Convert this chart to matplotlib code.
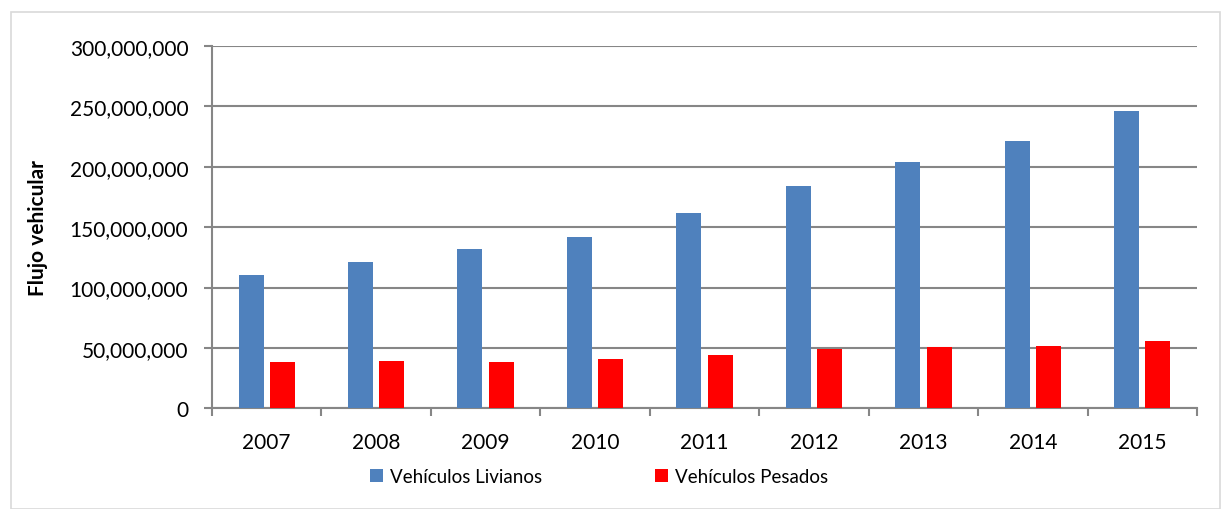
import numpy as np
import matplotlib
matplotlib.use('Agg')
import matplotlib.pyplot as plt
from matplotlib.ticker import FuncFormatter
from matplotlib.patches import Rectangle

plt.rcParams['font.family'] = ['Lato', 'DejaVu Sans']

# datos
anios = ['2007', '2008', '2009', '2010', '2011', '2012', '2013', '2014', '2015']
livianos = [110.5e6, 121.5e6, 131.8e6, 141.8e6, 161.6e6, 183.7e6, 203.9e6, 221.5e6, 245.9e6]
pesados = [38.3e6, 39.5e6, 38.3e6, 40.8e6, 44.3e6, 48.9e6, 50.6e6, 51.4e6, 55.5e6]

azul = '#4F81BD'
rojo = '#FF0000'
gris = '#868686'

fig = plt.figure(figsize=(12.31, 5.10), dpi=100)
fig.patches.append(Rectangle((11/1231, 0), (1220-11)/1231, 1 - 13/510, transform=fig.transFigure,
                             fill=False, edgecolor='#D9D9D9', linewidth=1.2))
ax = fig.add_axes([212/1231, 1 - 409.3/510, (1197-212)/1231, (409.3-47)/510])

x = np.arange(len(anios))
w = 0.228
ax.bar(x - 0.143, livianos, w, color=azul, label='Vehículos Livianos', zorder=3)
ax.bar(x + 0.143, pesados, w, color=rojo, label='Vehículos Pesados', zorder=3)

ax.set_xlim(-0.5, len(anios) - 0.5)
ax.set_ylim(0, 300e6)
ax.set_yticks(np.arange(0, 300e6 + 1, 50e6))
ax.yaxis.set_major_formatter(FuncFormatter(lambda v, p: '{:,.0f}'.format(v)))
ax.set_xticks(x)
ax.set_xticklabels(anios)
ax.set_xticks(np.arange(-0.5, len(anios)), minor=True)
ax.tick_params(axis='x', which='major', length=0, pad=17, labelsize=15)
ax.tick_params(axis='x', which='minor', length=6, width=1.5, color=gris, direction='out')
ax.tick_params(axis='y', length=6, width=1.5, color=gris, labelsize=15, pad=11)

ax.grid(axis='y', color=gris, linewidth=1.5, zorder=0)
for s in ['top', 'right']:
    ax.spines[s].set_visible(False)
for s in ['left', 'bottom']:
    ax.spines[s].set_color(gris)
    ax.spines[s].set_linewidth(1.5)

ax.set_ylabel('Flujo vehicular', fontsize=15, fontweight='bold', labelpad=16)

ax.legend(loc='upper center', bbox_to_anchor=(0.393, -0.118), ncol=2, frameon=False,
          fontsize=13.5, handlelength=0.7, handleheight=0.7, handletextpad=0.4, columnspacing=6.0)

fig.savefig('out.png', dpi=100)
